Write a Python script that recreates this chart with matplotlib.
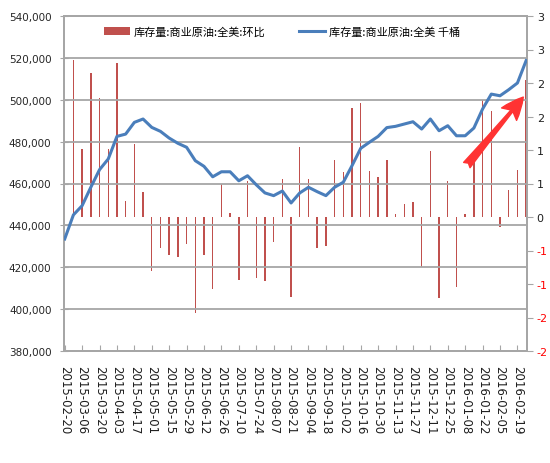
import matplotlib
matplotlib.use("Agg")
import matplotlib.pyplot as plt
import numpy as np
from matplotlib.font_manager import FontProperties

plt.rcParams['font.family'] = ['DejaVu Sans']

dates = [
    "2015-02-20", "2015-02-27", "2015-03-06", "2015-03-13", "2015-03-20", "2015-03-27",
    "2015-04-03", "2015-04-10", "2015-04-17", "2015-04-24", "2015-05-01", "2015-05-08",
    "2015-05-15", "2015-05-22", "2015-05-29", "2015-06-05", "2015-06-12", "2015-06-19",
    "2015-06-26", "2015-07-03", "2015-07-10", "2015-07-17", "2015-07-24", "2015-07-31",
    "2015-08-07", "2015-08-14", "2015-08-21", "2015-08-28", "2015-09-04", "2015-09-11",
    "2015-09-18", "2015-09-25", "2015-10-02", "2015-10-09", "2015-10-16", "2015-10-23",
    "2015-10-30", "2015-11-06", "2015-11-13", "2015-11-20", "2015-11-27", "2015-12-04",
    "2015-12-11", "2015-12-18", "2015-12-25", "2016-01-01", "2016-01-08", "2016-01-15",
    "2016-01-22", "2016-01-29", "2016-02-05", "2016-02-12", "2016-02-19", "2016-02-26",
]

# 库存量:商业原油:全美 (千桶) - left axis
stock = [
    433500, 445000, 449400, 458200, 466600, 471700, 482500, 483600, 489200, 490800,
    486800, 484900, 481700, 479200, 477300, 470900, 468200, 463200, 465600, 465600,
    461300, 463700, 459400, 455500, 454200, 456400, 450700, 455500, 458200, 456100,
    454200, 458200, 460600, 468500, 476800, 479700, 482500, 486700, 487300, 488400,
    489500, 486000, 490800, 485200, 487600, 482800, 482800, 486500, 495600, 502700,
    501900, 504800, 508000, 518700,
]

# 库存量:商业原油:全美:环比 (%) - right axis
wow = [
    1.95, 2.35, 1.01, 2.15, 1.78, 1.01, 2.30, 0.24, 1.09, 0.37,
    -0.81, -0.47, -0.57, -0.60, -0.41, -1.44, -0.57, -1.07, 0.49, 0.06,
    -0.94, 0.53, -0.91, -0.96, -0.38, 0.56, -1.20, 1.04, 0.56, -0.46,
    -0.44, 0.85, 0.67, 1.62, 1.70, 0.69, 0.59, 0.85, 0.04, 0.19,
    0.22, -0.74, 0.99, -1.21, 0.54, -1.05, 0.04, 0.83, 1.74, 1.58,
    -0.15, 0.40, 0.70, 2.04,
]

left_ticks = [380000, 400000, 420000, 440000, 460000, 480000, 500000, 520000, 540000]
right_ticks = [-2, -1.5, -1, -0.5, 0, 0.5, 1, 1.5, 2, 2.5, 3]
right_labels = ["-2", "-2", "-1", "-1", "0", "1", "1", "2", "2", "3", "3"]

legend_bar = "库存量:商业原油:全美:环比"
legend_line = "库存量:商业原油:全美 千桶"

fig = plt.figure(figsize=(5.5, 4.64), dpi=100)
ax1 = fig.add_axes([64/550, 1-352/464, (527-64)/550, (352-17)/464])
ax2 = ax1.twinx()
ax1.set_zorder(ax2.get_zorder() + 1)
ax1.patch.set_visible(False)

x = np.arange(len(dates))
bars = ax2.bar(x, wow, width=0.16, color='#C0504D', label=legend_bar, zorder=2)
line, = ax1.plot(x, stock, color='#4A7EBB', lw=2.2, label=legend_line, zorder=3)

ax1.set_xlim(-0.08, 53.1)
ax1.set_ylim(380000, 540000)
ax2.set_ylim(-2, 3)

grid_c = '#A6A6A6'
ax1.set_yticks(left_ticks)
ax1.set_yticklabels([f"{v:,}" for v in left_ticks], fontsize=7.5, color='#262626')
ax1.yaxis.grid(True, color=grid_c, lw=1.3)
ax1.tick_params(axis='y', direction='inout', length=6, color=grid_c, pad=6)

ax2.set_yticks(right_ticks)
ax2.set_yticklabels(right_labels, fontsize=8)
for t, v in zip(ax2.get_yticklabels(), right_ticks):
    t.set_color('#FF0000' if v < 0 else '#1F1F1F')
ax2.tick_params(axis='y', direction='out', length=4, color=grid_c, pad=3)

ax1.set_xticks(x[::2])
ax1.set_xticklabels(dates[::2], rotation=-90, fontsize=8.5, color='#1F1F1F', va='top', ha='center')
ax1.tick_params(axis='x', direction='in', length=4, color=grid_c, pad=10)
ax2.tick_params(axis='x', length=0)

for ax in (ax1, ax2):
    for s in ax.spines.values():
        s.set_color(grid_c)
        s.set_linewidth(1.3)

# arrow
ax1.annotate('', xy=(0.992, 0.758), xytext=(0.870, 0.555), xycoords='axes fraction',
             arrowprops=dict(arrowstyle='fancy,head_length=1.6,head_width=1.4,tail_width=0.6',
                             color='#FF3333', shrinkA=0, shrinkB=0, mutation_scale=10), zorder=5)

fp = FontProperties(family=['Noto Sans CJK SC', 'DejaVu Sans'], size=8)
ax1.legend([bars, line], [legend_bar, legend_line], loc='upper center',
           bbox_to_anchor=(0.47, 1.0), ncol=2, frameon=False, prop=fp,
           handlelength=2.4, columnspacing=3.0, handletextpad=0.3)

fig.savefig("out.png", dpi=100)
